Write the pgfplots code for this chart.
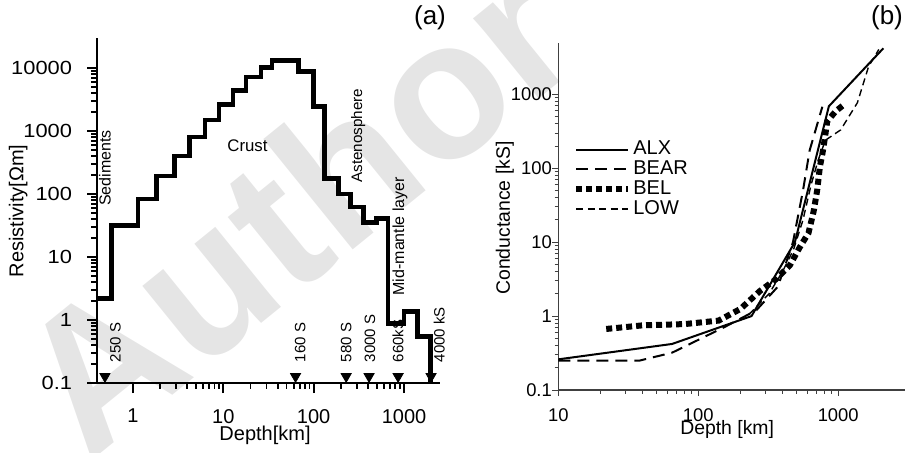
\documentclass[border=0pt]{standalone}
\usepackage{fontspec}
\setmainfont{Liberation Sans}
\usepackage{pgfplots}
\pgfplotsset{compat=1.18}

\newcommand\fs[1]{\fontsize{#1}{#1}\selectfont}

\begin{document}
\begin{tikzpicture}
\useasboundingbox (0pt,0pt) rectangle (454.5pt,-226pt);
% faint watermark of the source
\node[rotate=39, anchor=base west, text=black!10, font=\fs{98}\bfseries, inner sep=0pt] at (44pt,-232pt) {Author Copy};

\node[font=\fs{13}] at (215pt,-9pt) {(a)};
\node[font=\fs{13}] at (443.5pt,-9pt) {(b)};

% (a) resistivity model
\begin{axis}[
    at={(48.5pt,-191.5pt)}, anchor=south west,
    scale only axis, width=171.5pt, height=172.5pt,
    xmode=log, ymode=log,
    xmin=0.4, xmax=2500, ymin=0.1, ymax=30000,
    axis lines=left, axis line style={-, line width=1.1pt},
    tick align=outside,
    major tick length=5pt, minor tick length=2.8pt,
    every tick/.style={black, line width=0.9pt},
    xtick={1,10,100,1000}, ytick={0.1,1,10,100,1000,10000},
    log ticks with fixed point,
    /pgf/number format/1000 sep={},
    /pgf/number format/assume math mode=true,
    xticklabel style={font=\fs{10}, yshift=-4.5pt},
    yticklabel style={font=\fs{9.5}, xscale=1.15, xshift=-3pt},
    xlabel={Depth[km]}, ylabel={Resistivity[Ωm]},
    xlabel style={font=\fs{10}, at={(axis description cs:0.49,-0.153)}, anchor=center},
    ylabel style={font=\fs{10}, at={(axis description cs:-0.23,0.499)}, anchor=center},
    clip=false,
]
\addplot[const plot, black, line width=2.3pt] coordinates {
    (0.4,2.2) (0.58,32) (1.14,83) (1.82,193) (2.9,400) (4.23,800)
    (6.3,1490) (9.0,2650) (12.8,4450) (17.8,7200) (26,10100) (34.6,13200)
    (68,8800) (100,2450) (132,178) (188,100) (254,62) (355,35)
    (497,41) (666,0.88) (1000,1.36) (1400,0.55) (1950,0.1)
};
\addplot[only marks, mark=triangle*, mark size=2.9pt, black,
    mark options={rotate=180, fill=black}] coordinates {
    (0.49,0.127) (63,0.127) (229,0.127) (410,0.127) (860,0.127) (1990,0.127)
};
\node[rotate=90, anchor=west, font=\fs{7.5}] at (axis cs:0.64,0.166) {250 S};
\node[rotate=90, anchor=west, font=\fs{7.5}] at (axis cs:71,0.166) {160 S};
\node[rotate=90, anchor=west, font=\fs{7.5}] at (axis cs:229,0.166) {580 S};
\node[rotate=90, anchor=west, font=\fs{7.5}] at (axis cs:420,0.166) {3000 S};
\node[rotate=90, anchor=west, font=\fs{7.5}] at (axis cs:860,0.166) {660kS};
\node[rotate=90, anchor=west, font=\fs{7.5}] at (axis cs:2450,0.166) {4000 kS};
\node[rotate=90, anchor=west, font=\fs{8}] at (axis cs:0.49,50) {Sediments};
\node[font=\fs{8.4}] at (axis cs:18.5,578) {Crust};
\node[rotate=90, anchor=west, font=\fs{7.6}] at (axis cs:310,118) {Astenosphere};
\node[rotate=90, anchor=west, font=\fs{8}] at (axis cs:900,1.9) {Mid-mantle layer};
\end{axis}

% (b) cumulative conductance
\begin{axis}[
    at={(279.15pt,-195pt)}, anchor=south west,
    scale only axis, width=173.35pt, height=173.65pt,
    xmode=log, ymode=log,
    xmin=10, xmax=3000, ymin=0.1, ymax=5000,
    axis lines=left, axis line style={-, line width=0.6pt, black!75},
    tick align=outside,
    major tick length=3pt, minor tick length=1.8pt,
    every tick/.style={black!75, line width=0.5pt},
    xtick={10,100,1000}, ytick={0.1,1,10,100,1000},
    log ticks with fixed point,
    /pgf/number format/1000 sep={},
    /pgf/number format/assume math mode=true,
    xticklabel style={font=\fs{9.2}, yshift=-3pt},
    yticklabel style={font=\fs{9.2}, xshift=3.3pt},
    xlabel={Depth [km]}, ylabel={Conductance [kS]},
    xlabel style={font=\fs{9.7}, at={(axis description cs:0.487,-0.115)}, anchor=center},
    ylabel style={font=\fs{9.7}, at={(axis description cs:-0.154,0.495)}, anchor=center},
    legend style={draw=none, fill=none, at={(axis description cs:0.025,0.735)},
        anchor=north west, font=\fs{10}, row sep=-0.5pt,
        nodes={inner sep=1pt}},
    legend cell align=left,
    legend image code/.code={\draw[#1] (0pt,0pt) -- (26pt,0pt);},
]
\addplot[black, line width=1pt] coordinates {
    (10,0.26) (65,0.42) (240,1.0) (490,10) (857,690) (2100,4200)
};
\addlegendentry{ALX}
\addplot[black, line width=1pt, dash pattern=on 6pt off 3.5pt] coordinates {
    (10,0.25) (38,0.25) (65,0.32) (156,0.72) (260,1.2) (370,2.5)
    (420,5) (475,10) (560,50) (625,175) (770,680)
};
\addlegendentry{BEAR}
\addplot[black, line width=3pt, dash pattern=on 3pt off 2pt] coordinates {
    (22,0.67) (40,0.75) (80,0.78) (140,0.87) (200,1.25) (277,2.2)
    (355,3.1) (452,4.9) (534,8.7) (613,13.3) (667,26) (708,51)
    (740,106) (769,153) (790,209) (812,300) (834,432) (958,590) (1100,728)
};
\addlegendentry{BEL}
\addplot[black, line width=0.7pt, dash pattern=on 3.5pt off 2.2pt] coordinates {
    (230,1.05) (320,2) (400,4) (480,8) (560,20) (640,60) (720,130)
    (810,240) (1040,330) (1370,770) (1650,2400) (1950,4050)
};
\addlegendentry{LOW}
\end{axis}
\end{tikzpicture}
\end{document}
